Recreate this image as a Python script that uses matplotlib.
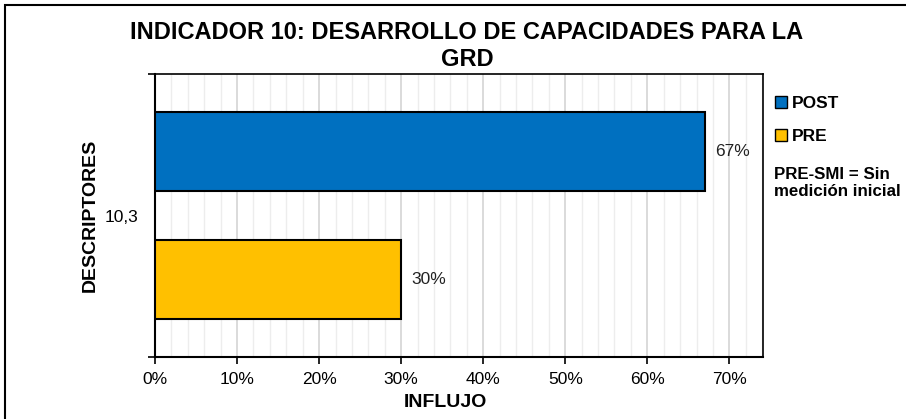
import matplotlib
matplotlib.use("Agg")
import matplotlib.pyplot as plt
from matplotlib.patches import Rectangle, Patch
from matplotlib.ticker import MultipleLocator, FuncFormatter

plt.rcParams['font.family'] = ['Liberation Sans', 'DejaVu Sans']

category = "10,3"
series = ["POST", "PRE"]
values = [0.67, 0.30]
colors = ["#0070C0", "#FFC000"]
labels = ["67%", "30%"]

fig = plt.figure(figsize=(9.06, 4.19), dpi=100)
ax = fig.add_axes([155/906, 1-357/419, (763-155)/906, (357-74)/419])

offsets = [0.225, -0.225]
for v, c, off, lab in zip(values, colors, offsets, labels):
    ax.barh(off, v, height=0.28, color=c, edgecolor='black', linewidth=1.5, zorder=3)
    ax.text(v + 0.013, off, lab, va='center', ha='left', fontsize=12.5, color='#222222')

ax.set_xlim(0, 0.741)
ax.set_ylim(-0.5, 0.5)
ax.xaxis.set_major_locator(MultipleLocator(0.1))
ax.xaxis.set_minor_locator(MultipleLocator(0.02))
ax.xaxis.set_major_formatter(FuncFormatter(lambda x, p: f"{x*100:.0f}%"))
ax.grid(axis='x', which='major', color='#d4d4d4', linewidth=1.2, zorder=0)
ax.grid(axis='x', which='minor', color='#ededed', linewidth=1.0, zorder=0)
ax.tick_params(axis='x', which='major', length=5, width=1.2, labelsize=12.5, colors='black', pad=6)
ax.tick_params(axis='x', which='minor', length=0)
ax.set_yticks([0])
ax.set_yticklabels([category], fontsize=12.5)
ax.tick_params(axis='y', which='major', length=0, pad=12)
ax.set_yticks([-0.5, 0.5], minor=True)
ax.tick_params(axis='y', which='minor', length=5, width=1.2)
for s in ax.spines.values():
    s.set_linewidth(1.5)
    s.set_color('black')
ax.spines['top'].set_linewidth(1.2)
ax.spines['right'].set_linewidth(1.2)

ax.set_xlabel("INFLUJO", fontsize=14, fontweight='bold')
ax.xaxis.set_label_coords((445-155)/(763-155), -(402-357)/(357-74))
ax.xaxis.label.set_va('center')
ax.set_ylabel("DESCRIPTORES", fontsize=14, fontweight='bold')
ax.yaxis.set_label_coords(-(155-90)/(763-155), 0.5)
ax.yaxis.label.set_va('center')

fig.text(467/906, 1-46/419, "INDICADOR 10: DESARROLLO DE CAPACIDADES PARA LA\nGRD",
         ha='center', va='center', fontsize=17, fontweight='bold', linespacing=1.2)

handles = [Patch(facecolor=c, edgecolor='black', linewidth=1.0, label=s) for s, c in zip(series, colors)]
leg = fig.legend(handles=handles, loc='upper left', bbox_to_anchor=(775/906, 1-96/419),
                 frameon=False, fontsize=12.5, handlelength=0.7, handleheight=0.7,
                 handletextpad=0.3, labelspacing=1.0, borderaxespad=0, borderpad=0)
for t in leg.get_texts():
    t.set_fontweight('bold')

fig.text(774/906, 1-183/419, "PRE-SMI = Sin\nmedición inicial", ha='left', va='center',
         fontsize=12.2, fontweight='bold', linespacing=1.15)

fig.patches.append(Rectangle((5/906, -0.1), 1.2, 1-5/419+0.1, transform=fig.transFigure,
                             fill=False, edgecolor='black', linewidth=1.5, clip_on=False))

fig.savefig("out.png", dpi=100)
